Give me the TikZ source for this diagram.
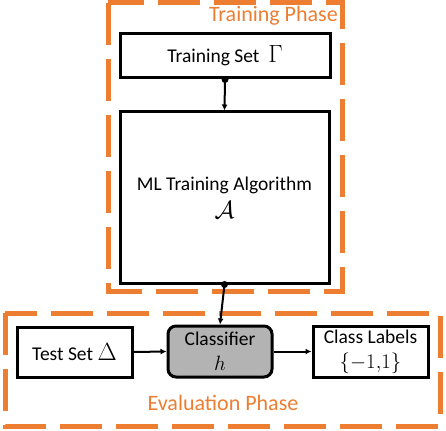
\documentclass[tikz,border=0pt]{standalone}
\usepackage{fontspec}
\setmainfont{Carlito}
\usetikzlibrary{arrows.meta}
\definecolor{phaseorange}{HTML}{ED7D31}
\definecolor{clsgray}{HTML}{B3B3B3}
\tikzset{
  phasebox/.style={draw=phaseorange, line width=5pt, dash pattern=on 42pt off 14pt},
  blockbox/.style={draw=black, line width=3pt, fill=white, inner sep=0pt, align=center, font=\fontsize{19.5}{25}\selectfont},
  clsbox/.style={blockbox, fill=clsgray, rounded corners=8pt},
  conn/.style={line width=2pt, -{Latex[length=6pt,width=6pt]}},
  phaselabel/.style={text=phaseorange, font=\fontsize{22}{24}\selectfont, inner sep=0pt},
  dotmark/.style={circle, fill=black, inner sep=0pt, minimum size=7pt}
}
\begin{document}
\begin{tikzpicture}[x=1pt,y=-1pt]
\useasboundingbox (0,0) rectangle (446,430);
% phase frames
\draw[phasebox] (108,3) rectangle (342,291);
\draw[phasebox] (5,313) rectangle (440,426);
\node[phaselabel, anchor=east] (trainlbl) at (338,16) {Training Phase};
\node[phaselabel] (evallbl) at (223,403) {Evaluation Phase};
% blocks
\node[blockbox, minimum width=210pt, minimum height=44pt] (tset) at (225,56) {Training Set~~{\fontsize{23}{25}\selectfont$\Gamma$}};
\node[blockbox, minimum width=209pt, minimum height=171pt] (alg) at (224.5,197.5) {ML Training Algorithm\\[3pt]{\fontsize{23}{25}\selectfont$\mathcal{A}$}};
\node[blockbox, minimum width=115pt, minimum height=50pt] (test) at (74.5,352) {Test Set~{\fontsize{23}{25}\selectfont$\Delta$}};
\node[clsbox, minimum width=104pt, minimum height=51pt] (cls) at (220,351.5) {Classifier\\{\fontsize{22}{25}\selectfont$h$}};
\node[blockbox, minimum width=115pt, minimum height=51pt] (lab) at (370.5,351.5) {Class Labels\\{\fontsize{21}{25}\selectfont$\{-1{,}1\}$}};
% connectors
\coordinate (tsb) at (tset.south);
\coordinate (alb) at (alg.south);
\node[dotmark] (d1) at (tsb) {};
\node[dotmark] (d2) at (alb) {};
\draw[conn] (d1.center) -- (alg.north);
\draw[conn] (d2.center) -- (cls.north);
\draw[conn] (test.east) -- (cls.west);
\draw[conn] (cls.east) -- (lab.west);
\end{tikzpicture}
\end{document}
